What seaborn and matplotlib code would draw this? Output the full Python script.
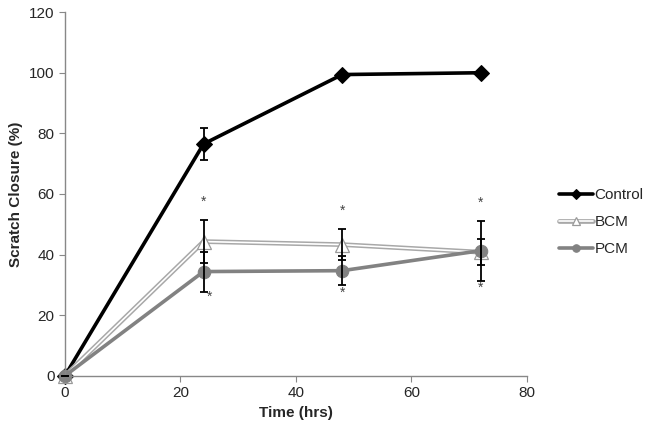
import matplotlib
matplotlib.use('Agg')
import matplotlib.pyplot as plt
from matplotlib.legend_handler import HandlerTuple
import seaborn as sns
import pandas as pd

# Data
hours = [0, 24, 48, 72]
control = [0, 76.5, 99.4, 100.0]
control_err = [0, 5.3, 0, 0]
bcm = [0, 44.3, 43.3, 40.8]
bcm_err = [0, 7.0, 5.0, 4.3]
pcm = [0, 34.4, 34.7, 41.3]
pcm_err = [0, 6.6, 4.7, 9.9]

# significance asterisks (x, y)
star_x = [24, 25, 48, 48, 72, 72]
star_y = [57.5, 26.0, 54.5, 27.5, 57.0, 29.0]

sns.set_style('white')
plt.rcParams['font.family'] = ['Liberation Sans', 'DejaVu Sans']

fig = plt.figure(figsize=(6.49, 4.33), dpi=100)
ax = fig.add_axes([0.1, 0.132, 0.712, 0.84])

df = pd.DataFrame({'hours': hours, 'Control': control, 'BCM': bcm, 'PCM': pcm})

sns.lineplot(data=df, x='hours', y='Control', ax=ax, color='black', lw=2.6,
             marker='D', markersize=8, markeredgecolor='black', label='Control')
# BCM: light grey outlined line with a white core
sns.lineplot(data=df, x='hours', y='BCM', ax=ax, color='#a8a8a8', lw=3.4, label='_bcm_outline')
sns.lineplot(data=df, x='hours', y='BCM', ax=ax, color='white', lw=1.2,
             marker='^', markersize=10, markerfacecolor='white',
             markeredgecolor='#9a9a9a', markeredgewidth=0.9, label='BCM')
sns.lineplot(data=df, x='hours', y='PCM', ax=ax, color='#828282', lw=2.6,
             marker='o', markersize=9, markeredgecolor='#828282', label='PCM')

for vals, errs in [(control, control_err), (bcm, bcm_err), (pcm, pcm_err)]:
    ax.errorbar(hours, vals, yerr=errs, fmt='none', ecolor='black',
                elinewidth=1.3, capsize=3.2, capthick=1.3, zorder=5)

for sx, sy in zip(star_x, star_y):
    ax.text(sx, sy, '*', ha='center', va='center', fontsize=10, color='#444444')

ax.set_xlim(0, 80)
ax.set_ylim(0, 120)
ax.set_xticks([0, 20, 40, 60, 80])
ax.set_yticks([0, 20, 40, 60, 80, 100, 120])
ax.set_xlabel('Time (hrs)', fontsize=11, fontweight='bold')
ax.set_ylabel('Scratch Closure (%)', fontsize=11, fontweight='bold')
ax.tick_params(labelsize=11, length=4, color='#888888', direction='out',
               bottom=True, left=True)
for s in ['top', 'right']:
    ax.spines[s].set_visible(False)
for s in ['left', 'bottom']:
    ax.spines[s].set_color('#888888')
    ax.spines[s].set_linewidth(1.0)

lines = ax.get_lines()
h_control, h_outline, h_bcm, h_pcm = lines[0], lines[1], lines[2], lines[3]
ax.legend([h_control, (h_outline, h_bcm), h_pcm], ['Control', 'BCM', 'PCM'],
          handler_map={tuple: HandlerTuple(ndivide=1, pad=0)},
          loc='center left', bbox_to_anchor=(0.862, 0.487), bbox_transform=fig.transFigure,
          frameon=False, fontsize=11, handlelength=2.2, handletextpad=0.1,
          labelspacing=0.85, markerscale=0.6, borderaxespad=0, borderpad=0)
for line in ax.get_lines():
    line.set_clip_on(False)

fig.savefig('out.png', dpi=100)
